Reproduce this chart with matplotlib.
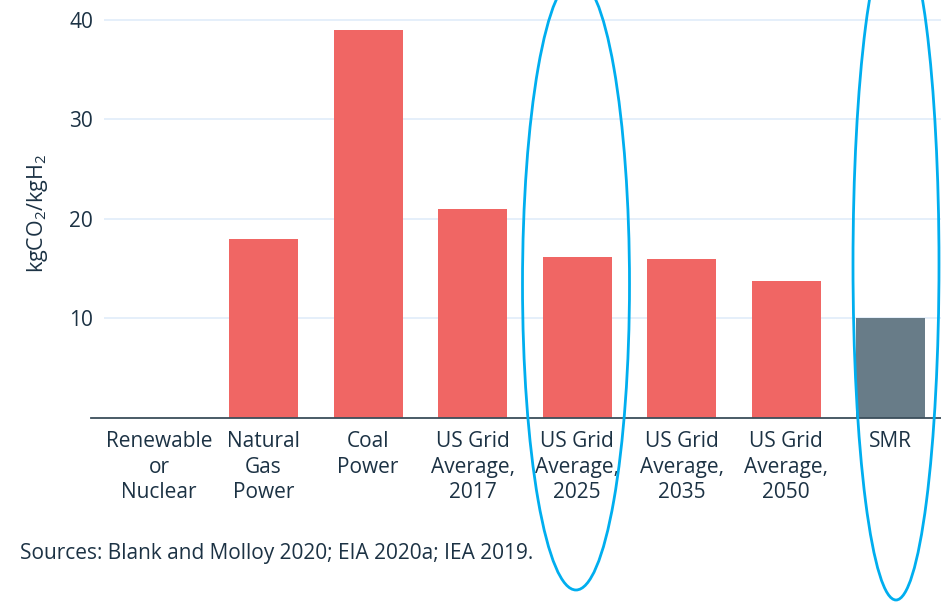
import matplotlib
matplotlib.use("Agg")
import matplotlib.pyplot as plt
from matplotlib.patches import Ellipse
from matplotlib.lines import Line2D

categories = ["Renewable\nor\nNuclear", "Natural\nGas\nPower", "Coal\nPower",
              "US Grid\nAverage,\n2017", "US Grid\nAverage,\n2025",
              "US Grid\nAverage,\n2035", "US Grid\nAverage,\n2050", "SMR"]
values = [0.0, 18.0, 39.0, 21.0, 16.2, 16.0, 13.8, 10.0]
bar_colors = ["#f06664"] * 7 + ["#687c88"]
yticks = [10, 20, 30, 40]
ylabel = "kgCO$_2$/kgH$_2$"
source = "Sources: Blank and Molloy 2020; EIA 2020a; IEA 2019."

plt.rcParams['font.family'] = ['Open Sans', 'DejaVu Sans']
plt.rcParams['mathtext.fontset'] = 'custom'
plt.rcParams['mathtext.rm'] = 'Open Sans'
text_color = "#1c3244"

W, H = 941, 602
fig = plt.figure(figsize=(W / 100, H / 100), dpi=100)
ax_left, ax_right, ax_bottom, ax_top = 104, 941, 418, 15
ax = fig.add_axes([ax_left / W, 1 - ax_bottom / H, (ax_right - ax_left) / W, (ax_bottom - ax_top) / H])

x = list(range(len(categories)))
ax.bar(x, values, width=0.66, color=bar_colors, zorder=3)
for t in yticks:
    ax.axhline(t, color="#e3eefa", lw=1.3, zorder=1)

ax.set_xlim(-0.526, 7.48)
ax.set_ylim(0, 40.5)
ax.set_yticks(yticks)
ax.set_xticks(x)
ax.set_xticklabels(categories, fontsize=15, color=text_color, linespacing=1.27)
ax.tick_params(axis="both", length=0, colors=text_color, labelsize=15)
ax.tick_params(axis="y", pad=8)
ax.tick_params(axis="x", pad=9.5)
for s in ax.spines.values():
    s.set_visible(False)

# baseline extending slightly left of the plot area
fig.add_artist(Line2D([91 / W, 1.0], [1 - ax_bottom / H] * 2, color="#3b4e5b", lw=1.3, transform=fig.transFigure, zorder=5))

fig.text(37 / W, 1 - 213 / H, ylabel, rotation=90, ha="center", va="center", fontsize=15.5, color=text_color)
fig.text(20 / W, 1 - 553 / H, source, ha="left", va="center", fontsize=15, color=text_color)

# highlight ellipses
for cx, cy, a, b in [(576, 284, 53.5, 306), (896, 264, 43, 336)]:
    e = Ellipse((cx / W, 1 - cy / H), 2 * a / W, 2 * b / H, fill=False, edgecolor="#00aeef", lw=2.0, transform=fig.transFigure, zorder=10)
    fig.add_artist(e)

fig.savefig("out.png", dpi=100)
